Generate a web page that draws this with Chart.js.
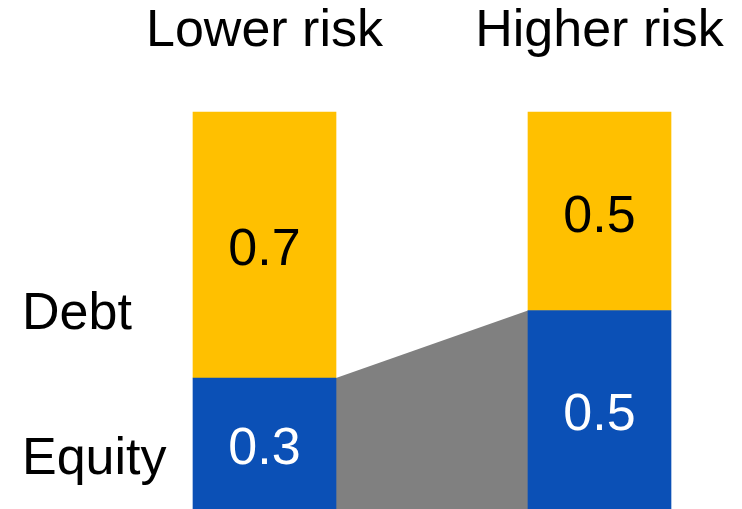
<!DOCTYPE html>
<html>
<head>
<meta charset="utf-8">
<script src="https://cdn.jsdelivr.net/npm/chart.js@4"></script>
<style>
  html, body { margin: 0; padding: 0; background: #fff; }
  #wrap { width: 742px; height: 509px; position: relative; }
</style>
</head>
<body>
<div id="wrap"><canvas id="chart"></canvas></div>
<script>
const categories = ["Lower risk", "Higher risk"];
const seriesNames = ["Equity", "Debt"];
const equity = [0.33, 0.5];
const debt = [0.67, 0.5];
// where the series names sit on the value axis
const nameTicks = [0.125, 0.49];

const FONT = '"Liberation Sans", Arial, sans-serif';
const blue = "#0B50B6";
const yellow = "#FFC000";
const gray = "#808080";

const bridge = {
  id: "bridge",
  beforeDatasetsDraw(chart) {
    const bars = chart.getDatasetMeta(0).data;
    if (bars.length < 2) return;
    const a = bars[0], b = bars[1];
    const ctx = chart.ctx;
    ctx.save();
    ctx.fillStyle = gray;
    ctx.beginPath();
    ctx.moveTo(a.x + a.width / 2, a.y);
    ctx.lineTo(b.x - b.width / 2, b.y);
    ctx.lineTo(b.x - b.width / 2, b.base);
    ctx.lineTo(a.x + a.width / 2, a.base);
    ctx.closePath();
    ctx.fill();
    ctx.restore();
  },
};

const valueLabels = {
  id: "valueLabels",
  afterDatasetsDraw(chart) {
    const ctx = chart.ctx;
    ctx.save();
    ctx.font = "52px " + FONT;
    ctx.textAlign = "center";
    ctx.textBaseline = "middle";
    chart.data.datasets.forEach(function (ds, i) {
      ctx.fillStyle = i === 0 ? "#ffffff" : "#000000";
      chart.getDatasetMeta(i).data.forEach(function (el, j) {
        ctx.fillText(ds.data[j].toFixed(1), el.x, (el.y + el.base) / 2 + 6);
      });
    });
    ctx.restore();
  },
};

new Chart(document.getElementById("chart"), {
  type: "bar",
  data: {
    labels: categories,
    datasets: [
      { label: seriesNames[0], data: equity, backgroundColor: blue, barThickness: 143, clip: false },
      { label: seriesNames[1], data: debt, backgroundColor: yellow, barThickness: 143, clip: false },
    ],
  },
  options: {
    responsive: true,
    maintainAspectRatio: false,
    animation: false,
    layout: { padding: { left: 22, right: 142.5, top: 0, bottom: 0 } },
    plugins: { legend: { display: false }, tooltip: { enabled: false } },
    scales: {
      x: {
        position: "top",
        stacked: true,
        offset: false,
        grid: { display: false, offset: false },
        border: { display: false },
        ticks: {
          autoSkip: false,
          maxRotation: 0,
          padding: 41,
          color: "#000",
          font: { family: FONT, size: 52 },
        },
        afterFit: function (s) {
          s.height = 112;
          s.paddingLeft = 0;
          s.paddingRight = 0;
        },
      },
      y: {
        stacked: true,
        min: 0,
        max: 1,
        grid: { display: false },
        border: { display: false },
        afterBuildTicks: function (s) {
          s.ticks = nameTicks.map(function (v) { return { value: v }; });
        },
        ticks: {
          crossAlign: "far",
          color: "#000",
          font: { family: FONT, size: 52 },
          callback: function (v, i) { return seriesNames[i]; },
        },
        afterFit: function (s) {
          s.width = 242.5;
          s.paddingTop = 0;
          s.paddingBottom = 0;
        },
      },
    },
  },
  plugins: [bridge, valueLabels],
});
</script>
</body>
</html>
